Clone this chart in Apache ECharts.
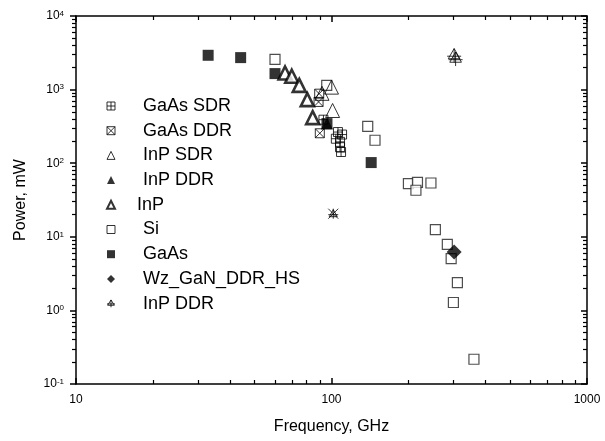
<!DOCTYPE html>
<html>
<head>
<meta charset="utf-8">
<script src="https://cdn.jsdelivr.net/npm/echarts@6/dist/echarts.min.js"></script>
<style>
  html, body { margin: 0; padding: 0; background: #fff; }
  #chart { width: 605px; height: 441px; }
</style>
</head>
<body>
<div id="chart"></div>
<script>
// [frequency GHz, power mW]
const gaasSdr = [[106, 265], [110, 245], [104, 215], [108, 195], [108, 165], [109, 142], [93, 390]];
const gaasDdr = [[89.5, 880], [89, 680], [90, 255]];
const inpSdr = [[100, 1080], [91.8, 890], [101, 520]];
const inpDdr = [[96, 345]];
const inp = [[65.8, 1680], [69.9, 1520], [74.8, 1140], [80.4, 730], [84.4, 416]];
const si = [[60.1, 2580], [95.8, 1144], [138.6, 317], [148, 205], [200, 52.8], [217, 55], [214, 42.9],
  [245, 53.8], [255, 12.5], [284, 7.9], [294, 5.05], [311, 2.39], [300, 1.28], [361, 0.217]];
const gaas = [[32.9, 2926], [44.1, 2720], [60.1, 1650], [96, 345], [143, 102]];
const wzGan = [[302, 6.2]];
const inpDdr2 = [[302, 2900], [306, 2600]];
const mixed = [[101.6, 20.6]];

const legendNames = ['GaAs SDR', 'GaAs DDR', 'InP SDR', 'InP DDR', 'InP', 'Si', 'GaAs', 'Wz_GaN_DDR_HS', 'InP DDR '];

const FONT = 'Liberation Sans, Arial, sans-serif';
const CLEAR = 'rgba(0,0,0,0)';
const xMin = 10, xMax = 1000, yMin = 0.1, yMax = 10000;

// minor tick values 2..9 per decade
function minorValues(lo, hi) {
  const out = [];
  for (let k = Math.floor(Math.log10(lo)); k < Math.ceil(Math.log10(hi)); k++) {
    for (let m = 2; m <= 9; m++) {
      const v = +(m * Math.pow(10, k)).toPrecision(6);
      if (v > lo && v < hi) out.push(v);
    }
  }
  return out;
}
const xMinor = minorValues(xMin, xMax);
const yMinor = minorValues(yMin, yMax);

const boxPlus = 'path://M0,0H10V10H0Z M5,0V10 M0,5H10';
const boxCross = 'path://M0,0H10V10H0Z M0,0L10,10 M10,0L0,10';
const triPlus = 'path://M5,0L10,8H0Z M-1,6H11 M5,0V11';
const crossTri = 'path://M0,0L10,10 M10,0L0,10 M5,1L9,8H1Z M0,6H10 M5,0V10';

const chart = echarts.init(document.getElementById('chart'));

function openStyle(w) {
  return { color: CLEAR, borderColor: '#000', borderWidth: w };
}

const legendStyle = {
  'GaAs SDR': { color: CLEAR, borderColor: '#000', borderWidth: 1 },
  'GaAs DDR': { color: CLEAR, borderColor: '#000', borderWidth: 1 },
  'InP SDR': { color: CLEAR, borderColor: '#000', borderWidth: 1 },
  'InP DDR': { color: '#000', borderWidth: 0 },
  'InP': { color: '#fff', borderColor: '#000', borderWidth: 2 },
  'Si': { color: '#fff', borderColor: '#000', borderWidth: 1 },
  'GaAs': { color: '#000', borderWidth: 0 },
  'Wz_GaN_DDR_HS': { color: '#000', borderWidth: 0 },
  'InP DDR ': { color: CLEAR, borderColor: '#000', borderWidth: 1 }
};

const tickLine = { color: '#000', width: 1.5 };

function minorX(pos, inside) {
  return {
    type: 'log', logBase: 10, min: xMin, max: xMax, position: pos,
    axisLine: { show: false },
    axisTick: { show: true, inside: inside, length: 4, customValues: xMinor, lineStyle: { color: '#000', width: 1.2 } },
    axisLabel: { show: false },
    splitLine: { show: false }
  };
}
function minorY(pos, inside) {
  return {
    type: 'log', logBase: 10, min: yMin, max: yMax, position: pos,
    axisLine: { show: false },
    axisTick: { show: true, inside: inside, length: 4, customValues: yMinor, lineStyle: { color: '#000', width: 1.2 } },
    axisLabel: { show: false },
    splitLine: { show: false }
  };
}

const option = {
  animation: false,
  grid: { left: 76, right: 18, top: 16, bottom: 57 },
  legend: {
    orient: 'vertical',
    left: 101,
    top: 92,
    itemWidth: 8,
    itemHeight: 8,
    itemGap: 6.7,
    selectedMode: false,
    data: legendNames.map(n => ({
      name: n,
      itemStyle: legendStyle[n],
      textStyle: { padding: [0, 0, 0, n === 'InP' ? 17 : 23] }
    })),
    textStyle: { fontFamily: FONT, fontSize: 18, color: '#000' }
  },
  xAxis: [{
    type: 'log', logBase: 10, min: xMin, max: xMax,
    name: 'Frequency, GHz', nameLocation: 'middle', nameGap: 35,
    nameTextStyle: { fontFamily: FONT, fontSize: 16, color: '#000' },
    axisLine: { lineStyle: { color: '#000', width: 1.5 } },
    axisTick: { show: true, inside: true, length: 6, lineStyle: tickLine },
    axisLabel: { fontFamily: FONT, fontSize: 12, color: '#000', margin: 10, formatter: v => String(v) },
    splitLine: { show: false }
  }, {
    type: 'log', logBase: 10, min: xMin, max: xMax, position: 'top',
    axisLine: { lineStyle: { color: '#000', width: 1.5 } },
    axisTick: { show: true, inside: true, length: 6, lineStyle: tickLine },
    axisLabel: { show: false },
    splitLine: { show: false }
  }, minorX('bottom', true), minorX('top', true)],
  yAxis: [{
    type: 'log', logBase: 10, min: yMin, max: yMax,
    name: 'Power, mW', nameLocation: 'middle', nameGap: 47,
    nameTextStyle: { fontFamily: FONT, fontSize: 16, color: '#000' },
    axisLine: { lineStyle: { color: '#000', width: 1.5 } },
    axisTick: { show: true, inside: false, length: 6, lineStyle: tickLine },
    axisLabel: {
      margin: 12,
      formatter: v => '{b|10}{s|' + Math.round(Math.log10(v)) + '}',
      rich: {
        b: { fontFamily: FONT, fontSize: 12, color: '#000' },
        s: { fontFamily: FONT, fontSize: 8, color: '#000', verticalAlign: 'top', padding: [0, 0, 5, 0] }
      }
    },
    splitLine: { show: false }
  }, {
    type: 'log', logBase: 10, min: yMin, max: yMax, position: 'right',
    axisLine: { lineStyle: { color: '#000', width: 1.5 } },
    axisTick: { show: true, inside: true, length: 6, lineStyle: tickLine },
    axisLabel: { show: false },
    splitLine: { show: false }
  }, minorY('left', false), minorY('right', true)],
  series: [
    { name: 'Si', type: 'scatter', data: si, symbol: 'rect', symbolSize: 10,
      itemStyle: { color: '#fff', borderColor: '#222', borderWidth: 1.2 } },
    { name: 'GaAs', type: 'scatter', data: gaas, symbol: 'rect', symbolSize: 11,
      itemStyle: { color: '#000' } },
    { name: 'GaAs SDR', type: 'scatter', data: gaasSdr, symbol: boxPlus, symbolSize: 9,
      itemStyle: openStyle(1) },
    { name: 'GaAs DDR', type: 'scatter', data: gaasDdr, symbol: boxCross, symbolSize: 9,
      itemStyle: openStyle(1) },
    { name: 'InP SDR', type: 'scatter', data: inpSdr, symbol: 'triangle', symbolSize: 14,
      itemStyle: openStyle(1) },
    { name: 'InP DDR', type: 'scatter', data: inpDdr, symbol: 'triangle', symbolSize: 12,
      itemStyle: { color: '#000' } },
    { name: 'InP', type: 'scatter', data: inp, symbol: 'triangle', symbolSize: 13,
      itemStyle: { color: '#fff', borderColor: '#000', borderWidth: 2.6 } },
    { name: 'Wz_GaN_DDR_HS', type: 'scatter', data: wzGan, symbol: 'diamond', symbolSize: 15,
      itemStyle: { color: '#000' } },
    { name: 'InP DDR ', type: 'scatter', data: inpDdr2, symbol: triPlus, symbolSize: 14,
      itemStyle: openStyle(1) },
    { name: 'mixed', type: 'scatter', data: mixed, symbol: crossTri, symbolSize: 10,
      itemStyle: openStyle(1) }
  ]
};
chart.setOption(option);
</script>
</body>
</html>
